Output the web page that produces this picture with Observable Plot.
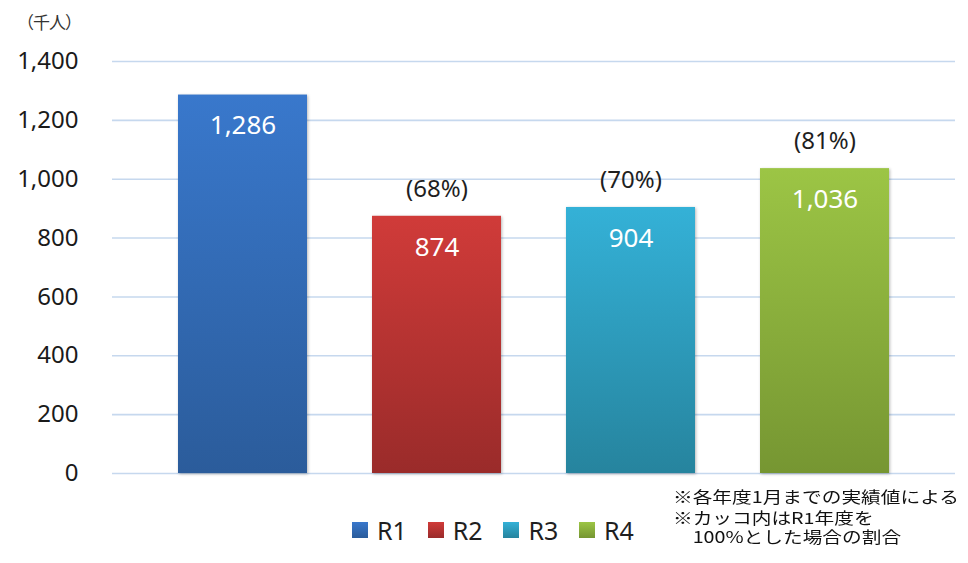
<!DOCTYPE html>
<html>
<head>
<meta charset="utf-8">
<script src="https://cdn.jsdelivr.net/npm/d3@7"></script>
<script src="https://cdn.jsdelivr.net/npm/@observablehq/plot@0.6"></script>
<style>
  body { margin: 0; background: #fff; }
  #wrap { position: relative; width: 968px; height: 563px; font-family: "Noto Sans", "Noto Sans CJK JP", sans-serif; color: #1f1f1f; }
  #unit { position: absolute; left: 17px; top: 9px; font-size: 17px; letter-spacing: -1px; font-family: "Noto Sans CJK JP", sans-serif; color: #333; }
  #legend { position: absolute; left: 352px; top: 513px; display: flex; }
  .item { width: 75.7px; flex: none; display: flex; align-items: center; font-size: 25px; color: #1f1f1f; }
  .sw { width: 16px; height: 16px; margin-right: 9px; flex: none; }
  .note { position: absolute; left: 673px; font-family: "Noto Sans CJK JP", sans-serif; font-size: 15.5px; line-height: 19px; white-space: pre; transform: scaleX(1.27); transform-origin: left center; color: #111; }
</style>
</head>
<body>
<div id="wrap"></div>
<script>
// ---- data ----
const categories = ["R1", "R2", "R3", "R4"];
const values = [1286, 874, 904, 1036];
const valueLabels = ["1,286", "874", "904", "1,036"];
const shareLabels = ["", "(68%)", "(70%)", "(81%)"];
const yTicks = [0, 200, 400, 600, 800, 1000, 1200, 1400];
const unitLabel = "（千人）";
const notes = ["※各年度1月までの実績値による", "※カッコ内はR1年度を\n　100%とした場合の割合"];

// ---- palette (styles) ----
const topColors = ["#3978cc", "#d03b39", "#34b1d7", "#9cc545"];
const bottomColors = ["#2b5c9b", "#9a2b2a", "#26849e", "#769632"];

const rows = categories.map((c, i) => ({ cat: c, value: values[i], label: valueLabels[i], share: shareLabels[i] }));

const svg = Plot.plot({
  width: 968,
  height: 563,
  marginTop: 61,
  marginBottom: 90,
  marginLeft: 112,
  marginRight: 13,
  style: { fontFamily: '"Noto Sans", "Noto Sans CJK JP", sans-serif', background: "transparent", overflow: "visible" },
  x: { domain: categories, range: [145.6, 922.4], paddingInner: 0.333, paddingOuter: 0.1667, axis: null },
  y: { domain: [0, 1400] },
  color: { domain: categories, range: categories.map(c => `url(#grad-${c})`) },
  marks: [
    Plot.gridY(yTicks, { stroke: "#c6d8ee", strokeOpacity: 1, strokeWidth: 1.6 }),
    Plot.axisY(yTicks, { tickSize: 0, tickPadding: 34, fontSize: 24, tickFormat: d3.format(","), fill: "#1a1a1a", label: null }),
    Plot.barY(rows, { x: "cat", y: "value", fill: "cat" }),
    Plot.text(rows, { x: "cat", y: "value", text: "label", dy: 31, fill: "white", fontSize: 26 }),
    Plot.text(rows, { x: "cat", y: "value", text: "share", dy: -27, fill: "#1f1f1f", fontSize: 24 })
  ]
});

// gradients for bars
const defs = d3.select(svg).insert("defs", ":first-child");
categories.forEach((c, i) => {
  const g = defs.append("linearGradient").attr("id", `grad-${c}`).attr("x1", 0).attr("y1", 0).attr("x2", 0).attr("y2", 1);
  g.append("stop").attr("offset", "0%").attr("stop-color", topColors[i]);
  g.append("stop").attr("offset", "100%").attr("stop-color", bottomColors[i]);
});
d3.select(svg).selectAll('g[aria-label="bar"] rect').style("filter", "drop-shadow(1px 1px 1.5px rgba(0,0,0,0.28))");

const wrap = document.getElementById("wrap");
wrap.appendChild(svg);
svg.style.position = "absolute";
svg.style.left = "0";
svg.style.top = "0";

// unit label
const unit = document.createElement("div");
unit.id = "unit";
unit.textContent = unitLabel;
wrap.appendChild(unit);

// legend
const legend = document.createElement("div");
legend.id = "legend";
categories.forEach((c, i) => {
  const it = document.createElement("div");
  it.className = "item";
  const sw = document.createElement("span");
  sw.className = "sw";
  sw.style.background = `linear-gradient(${topColors[i]}, ${bottomColors[i]})`;
  const tx = document.createElement("span");
  tx.textContent = c;
  it.appendChild(sw);
  it.appendChild(tx);
  legend.appendChild(it);
});
wrap.appendChild(legend);

// notes
const noteTops = [487, 508];
notes.forEach((t, i) => {
  const d = document.createElement("div");
  d.className = "note";
  d.style.top = noteTops[i] + "px";
  d.textContent = t;
  wrap.appendChild(d);
});
</script>
</body>
</html>
